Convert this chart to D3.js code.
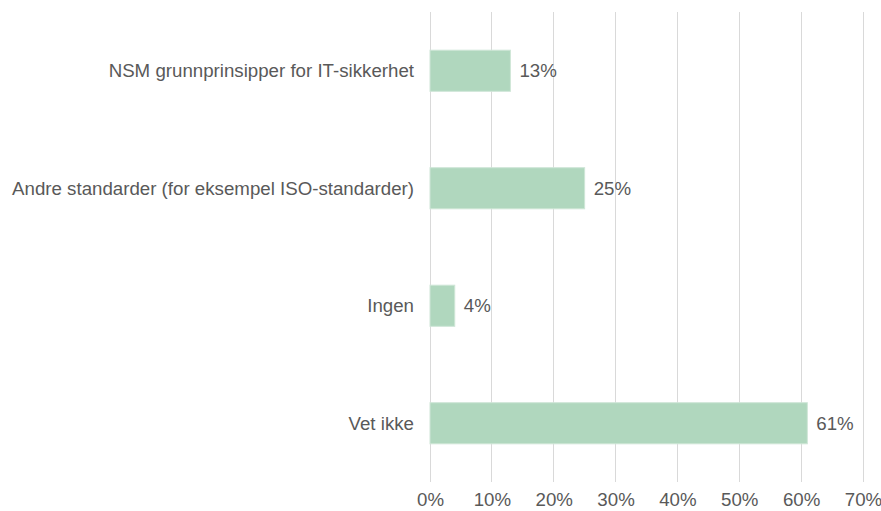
<!DOCTYPE html>
<html>
<head>
<meta charset="utf-8">
<script src="https://cdn.jsdelivr.net/npm/d3@7"></script>
<style>
  html, body { margin: 0; padding: 0; background: #fff; overflow: hidden; }
  svg { display: block; font-family: "Liberation Sans", Arial, sans-serif; }
</style>
</head>
<body>
<svg id="chart" width="881" height="511"></svg>
<script>
const categories = [
  "NSM grunnprinsipper for IT-sikkerhet",
  "Andre standarder (for eksempel ISO-standarder)",
  "Ingen",
  "Vet ikke"
];
const values = [13, 25, 4, 61];
const xTicks = [0, 10, 20, 30, 40, 50, 60, 70];

const svg = d3.select("#chart");
const margin = { left: 430, right: 18, top: 12, bottom: 29 };
const W = 881, H = 511;
const fontSize = 18.7;
const textColor = "#595959";

const x = d3.scaleLinear().domain([0, 70]).range([margin.left, W - margin.right]);
const y = d3.scaleBand().domain(categories).range([margin.top, H - margin.bottom]).paddingInner(0.65).paddingOuter(0.325);

// vertical gridlines
svg.append("g")
  .selectAll("line")
  .data(xTicks)
  .join("line")
  .attr("x1", d => x(d)).attr("x2", d => x(d))
  .attr("y1", margin.top).attr("y2", H - margin.bottom)
  .attr("stroke", "#d9d9d9").attr("stroke-width", 1)
  .attr("shape-rendering", "crispEdges");

// x axis tick labels along the bottom edge
const xAxis = d3.axisBottom(x).tickValues(xTicks).tickFormat(d => d + "%").tickSize(0).tickPadding(0);
const gx = svg.append("g").attr("transform", "translate(0, 506)").call(xAxis);
gx.select(".domain").remove();
gx.selectAll("text")
  .attr("y", 0).attr("dy", 0)
  .attr("fill", textColor).attr("font-size", fontSize)
  .attr("font-family", "'Liberation Sans', Arial, sans-serif");

// bars
svg.append("g")
  .selectAll("rect")
  .data(categories)
  .join("rect")
  .attr("x", x(0))
  .attr("y", d => y(d))
  .attr("width", (d, i) => x(values[i]) - x(0))
  .attr("height", y.bandwidth())
  .attr("fill", "#b0d7be")
  .attr("stroke", "#cfe6d7").attr("stroke-width", 1);

// value labels
svg.append("g")
  .selectAll("text")
  .data(categories)
  .join("text")
  .attr("x", (d, i) => x(values[i]) + 9)
  .attr("y", d => y(d) + y.bandwidth() / 2)
  .attr("dy", "0.35em")
  .attr("fill", textColor).attr("font-size", fontSize)
  .text((d, i) => values[i] + "%");

// category labels
svg.append("g")
  .selectAll("text")
  .data(categories)
  .join("text")
  .attr("x", margin.left - 16)
  .attr("y", d => y(d) + y.bandwidth() / 2)
  .attr("dy", "0.35em")
  .attr("text-anchor", "end")
  .attr("fill", textColor).attr("font-size", fontSize)
  .text(d => d);
</script>
</body>
</html>
